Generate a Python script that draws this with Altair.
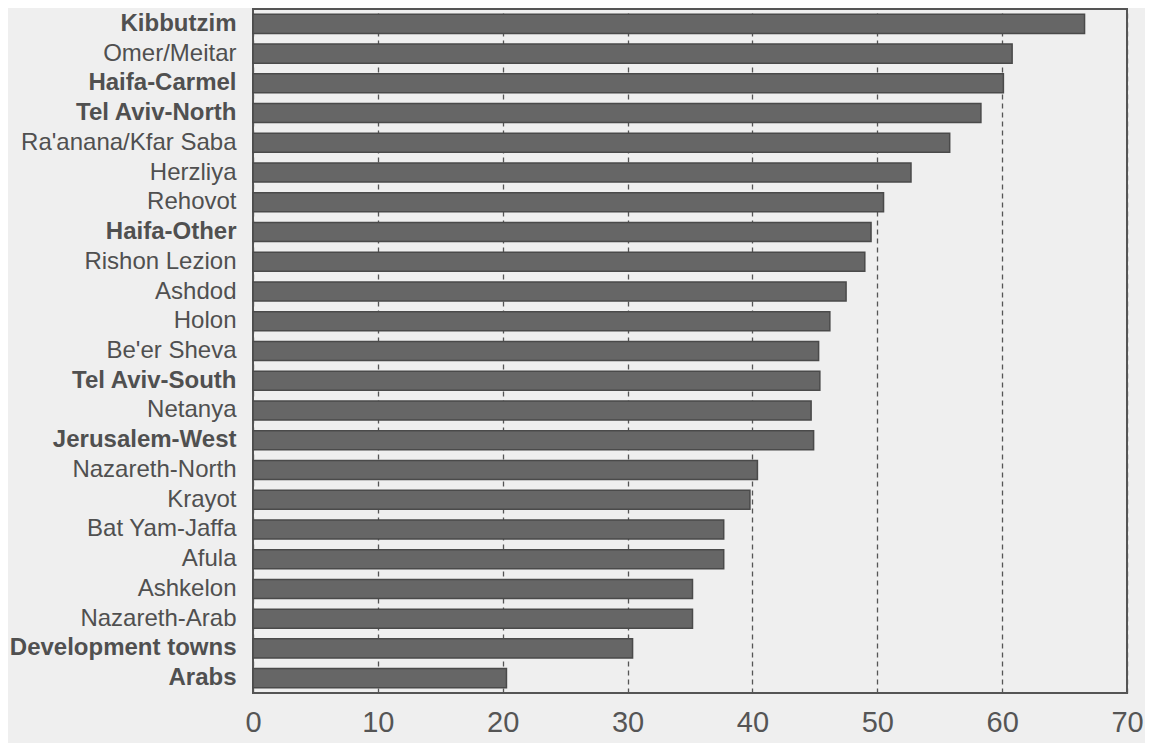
import altair as alt
import pandas as pd

categories = [
    "Kibbutzim", "Omer/Meitar", "Haifa-Carmel", "Tel Aviv-North",
    "Ra'anana/Kfar Saba", "Herzliya", "Rehovot", "Haifa-Other",
    "Rishon Lezion", "Ashdod", "Holon", "Be'er Sheva", "Tel Aviv-South",
    "Netanya", "Jerusalem-West", "Nazareth-North", "Krayot",
    "Bat Yam-Jaffa", "Afula", "Ashkelon", "Nazareth-Arab",
    "Development towns", "Arabs",
]
values = [
    66.6, 60.8, 60.1, 58.3, 55.8, 52.7, 50.5, 49.5, 49.0, 47.5, 46.2,
    45.3, 45.4, 44.7, 44.9, 40.4, 39.8, 37.7, 37.7, 35.2, 35.2, 30.4, 20.3,
]
bold_labels = [
    "Kibbutzim", "Haifa-Carmel", "Tel Aviv-North", "Haifa-Other",
    "Tel Aviv-South", "Jerusalem-West", "Development towns", "Arabs",
]
x_ticks = [0, 10, 20, 30, 40, 50, 60, 70]

df = pd.DataFrame({"area": categories, "value": values})

bold_expr = "indexof([" + ",".join("'" + b.replace("'", "\\'") + "'" for b in bold_labels) + "], datum.value) >= 0"

chart = alt.Chart(df).mark_bar(
    color="#666666", stroke="#4a4a4a", strokeWidth=1.5
).encode(
    x=alt.X(
        "value:Q",
        scale=alt.Scale(domain=[0, 70], nice=False),
        axis=alt.Axis(
            values=x_ticks, title=None, ticks=False, domain=False,
            labelFontSize=29, labelColor="#555555", labelPadding=15,
            labelFont="Liberation Sans", labelFlush=False,
            grid=True, gridColor="#555555", gridDash=[5, 4], gridWidth=1.3,
        ),
    ),
    y=alt.Y(
        "area:N",
        sort=categories,
        scale=alt.Scale(paddingInner=0.36, paddingOuter=0.18),
        axis=alt.Axis(
            title=None, ticks=False, domain=False, grid=False,
            labelFontSize=24, labelColor="#505050", labelPadding=17,
            labelFont="Liberation Sans", labelLimit=400,
            labelFontWeight={"condition": {"test": bold_expr, "value": "bold"}, "value": "normal"},
        ),
    ),
).properties(
    width=874,
    height=684,
    background="#efefef",
    padding={"left": 245, "top": 1, "right": 18, "bottom": 50},
    autosize=alt.AutoSizeParams(type="none"),
).configure_view(
    stroke="#555555", strokeWidth=2, fill="#efefef"
)

chart.save("out.html", embed_options={"renderer": "svg", "actions": False})
